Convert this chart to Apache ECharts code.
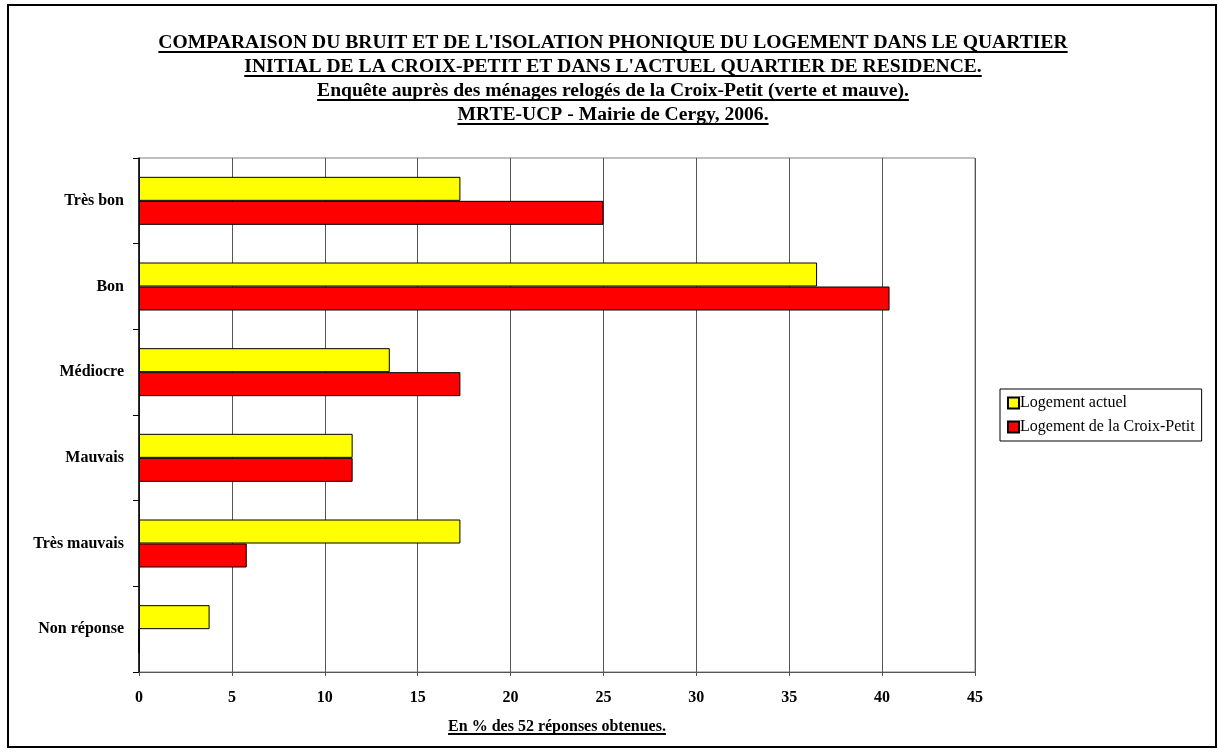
<!DOCTYPE html>
<html>
<head>
<meta charset="utf-8">
<script src="https://cdn.jsdelivr.net/npm/echarts@6/dist/echarts.min.js"></script>
<style>
html,body{margin:0;padding:0;background:#fff;}
#chart{width:1218px;height:756px;}
</style>
</head>
<body>
<div id="chart"></div>
<script>
const categories = ['Très bon', 'Bon', 'Médiocre', 'Mauvais', 'Très mauvais', 'Non réponse'];
const seriesNames = ['Logement actuel', 'Logement de la Croix-Petit'];
const actuel = [17.3, 36.5, 13.5, 11.5, 17.3, 3.8];
const croixPetit = [25.0, 40.4, 17.3, 11.5, 5.8, 0];
const titleLines = [
  "COMPARAISON DU BRUIT ET DE L'ISOLATION PHONIQUE DU LOGEMENT DANS LE QUARTIER",
  "INITIAL DE LA CROIX-PETIT ET DANS L'ACTUEL QUARTIER DE RESIDENCE.",
  "Enquête auprès des ménages relogés de la Croix-Petit (verte et mauve).",
  "MRTE-UCP - Mairie de Cergy, 2006."
];
const axisName = 'En % des 52 réponses obtenues.';

const FONT = '"Liberation Serif", "Times New Roman", serif';
const chart = echarts.init(document.getElementById('chart'), null, {renderer: 'canvas'});

const cnv = document.createElement('canvas').getContext('2d');
function textW(txt, size, weight) {
  cnv.font = weight + ' ' + size + 'px ' + FONT;
  return cnv.measureText(txt).width;
}

const graphics = [];
graphics.push({
  type: 'rect', silent: true, z: 0,
  shape: {x: 8, y: 5, width: 1208, height: 742},
  style: {fill: 'none', stroke: '#000', lineWidth: 2}
});
const titleSize = 19.6;
const titleCx = 613;
const titleY = [43, 67, 91, 115];
titleLines.forEach(function (t, i) {
  graphics.push({
    type: 'text', silent: true,
    style: {text: t, x: titleCx, y: titleY[i], align: 'center', verticalAlign: 'middle',
      font: 'bold ' + titleSize + 'px ' + FONT, fill: '#000'}
  });
  const w = textW(t, titleSize, 'bold');
  graphics.push({
    type: 'rect', silent: true,
    shape: {x: titleCx - w / 2, y: titleY[i] + 8, width: w, height: 2},
    style: {fill: '#000'}
  });
});
const gridLeft = 139, gridRight = 243, gridTop = 158, gridBottom = 84;
const axW = textW(axisName, 16, 'bold');
const axCx = gridLeft + (1218 - gridLeft - gridRight) / 2;
graphics.push({
  type: 'rect', silent: true,
  shape: {x: axCx - axW / 2, y: 733, width: axW, height: 2},
  style: {fill: '#000'}
});

const option = {
  backgroundColor: '#fff',
  animation: false,
  textStyle: {fontFamily: FONT},
  grid: {left: gridLeft, right: gridRight, top: gridTop, bottom: gridBottom,
    show: true, borderColor: '#808080', borderWidth: 1},
  legend: {
    orient: 'vertical', left: 1000, top: 389,
    padding: [6, 7], itemGap: 8, itemWidth: 11, itemHeight: 11,
    borderColor: '#000', borderWidth: 1,
    data: seriesNames.map(function (n) { return {name: n, icon: 'rect'}; }),
    textStyle: {fontFamily: FONT, fontSize: 16, color: '#000', padding: [0, 0, 0, -4]},
    selectedMode: false
  },
  xAxis: {
    type: 'value', min: 0, max: 45, interval: 5,
    name: axisName, nameLocation: 'middle', nameGap: 47,
    nameTextStyle: {fontFamily: FONT, fontSize: 16, fontWeight: 'bold', color: '#000'},
    axisLine: {show: true, lineStyle: {color: '#555', width: 1}},
    axisTick: {show: true, length: 4, inside: false, lineStyle: {color: '#555'}},
    axisLabel: {fontFamily: FONT, fontSize: 16, fontWeight: 'bold', color: '#000', margin: 18},
    splitLine: {show: true, lineStyle: {color: '#555', width: 1}}
  },
  yAxis: {
    type: 'category', data: categories, inverse: true,
    axisLine: {show: true, lineStyle: {color: '#000', width: 1.5}},
    axisTick: {show: true, length: 6, lineStyle: {color: '#000'}},
    axisLabel: {fontFamily: FONT, fontSize: 16, fontWeight: 'bold', color: '#000', margin: 15},
    splitLine: {show: false}
  },
  series: [
    {name: seriesNames[0], type: 'bar', data: actuel, barWidth: 24, barGap: '0%',
      itemStyle: {color: '#FFFF00', borderColor: '#000', borderWidth: 1}},
    {name: seriesNames[1], type: 'bar', data: croixPetit, barWidth: 24, barGap: '0%',
      itemStyle: {color: '#FF0000', borderColor: '#000', borderWidth: 1}}
  ],
  graphic: graphics
};
chart.setOption(option);
</script>
</body>
</html>
